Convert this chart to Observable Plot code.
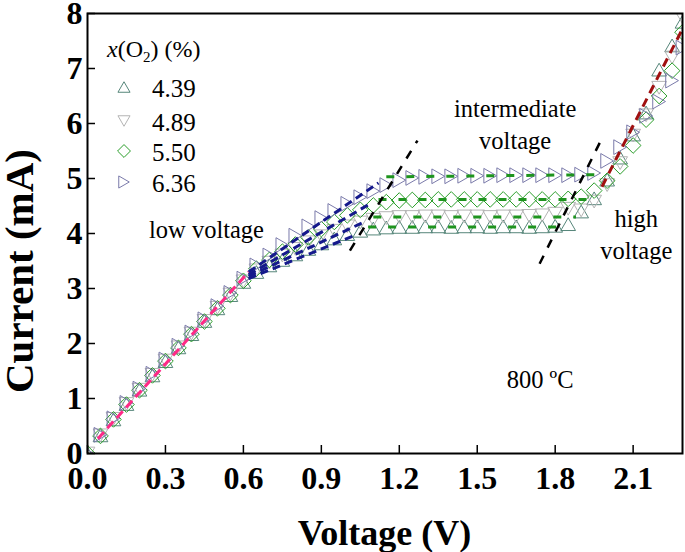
<!DOCTYPE html>
<html><head><meta charset="utf-8">
<script src="https://cdn.jsdelivr.net/npm/d3@7"></script>
<script src="https://cdn.jsdelivr.net/npm/@observablehq/plot@0.6"></script>
<style>
body{margin:0;background:#fff;}
#chart{position:relative;width:685px;height:552px;}
</style></head><body><div id="chart"></div>
<script>
// ---- data ----
const voltage = [0, 0.05, 0.1, 0.15, 0.2, 0.25, 0.3, 0.35, 0.4, 0.45, 0.5, 0.55, 0.6,
  0.65, 0.7, 0.75, 0.8, 0.85, 0.9, 0.95, 1.0, 1.05, 1.1,
  1.15, 1.2, 1.25, 1.3, 1.35, 1.4, 1.45, 1.5, 1.55, 1.6, 1.65, 1.7, 1.75, 1.8,
  1.85, 1.9, 1.95, 2.0, 2.05, 2.1, 2.15, 2.2, 2.25, 2.29];
const current439 = [0, 0.33, 0.62, 0.9, 1.16, 1.42, 1.68, 1.93, 2.17, 2.41, 2.64, 2.88, 3.12,
  3.3, 3.42, 3.52, 3.62, 3.72, 3.82, 3.91, 3.99, 4.05, 4.09,
  4.11, 4.12, 4.12, 4.13, 4.13, 4.12, 4.13, 4.13, 4.12, 4.13, 4.13, 4.12, 4.13, 4.14,
  4.17, 4.4, 4.64, 4.98, 5.38, 5.8, 6.2, 6.98, 7.42, 7.85];
const current489 = [0, 0.33, 0.63, 0.9, 1.16, 1.43, 1.69, 1.93, 2.18, 2.41, 2.65, 2.89, 3.13,
  3.33, 3.47, 3.6, 3.72, 3.84, 3.95, 4.05, 4.13, 4.2, 4.25,
  4.28, 4.3, 4.3, 4.31, 4.31, 4.3, 4.31, 4.31, 4.3, 4.31, 4.31, 4.32, 4.33, 4.36,
  4.45, 4.42, 4.58, 4.88, 5.28, 5.78, 6.15, 6.65, 7.2, 7.93];
const current550 = [0, 0.32, 0.62, 0.89, 1.15, 1.42, 1.68, 1.92, 2.17, 2.4, 2.64, 2.88, 3.14,
  3.36, 3.52, 3.67, 3.8, 3.93, 4.08, 4.21, 4.33, 4.43, 4.51,
  4.57, 4.6, 4.61, 4.61, 4.62, 4.62, 4.62, 4.62, 4.62, 4.62, 4.62, 4.62, 4.62, 4.62,
  4.63, 4.67, 4.78, 4.96, 5.22, 5.6, 6.07, 6.5, 6.96, 7.66];
const current636 = [0, 0.34, 0.64, 0.92, 1.18, 1.45, 1.71, 1.96, 2.2, 2.44, 2.68, 2.92, 3.18,
  3.42, 3.6, 3.79, 3.96, 4.13, 4.28, 4.41, 4.54, 4.66, 4.77,
  4.88, 4.97, 5.01, 5.03, 5.04, 5.04, 5.05, 5.05, 5.05, 5.06, 5.06, 5.06, 5.06, 5.06,
  5.06, 5.07, 5.1, 5.32, 5.57, 5.84, 6.14, 6.4, 6.78, 7.38];
const seriesLabels = ["4.39", "4.89", "5.50", "6.36"];
const xTicks = [0, 0.3, 0.6, 0.9, 1.2, 1.5, 1.8, 2.1];
const yTicks = [0, 1, 2, 3, 4, 5, 6, 7, 8];

// fitted dashed lines (endpoints in V, mA)
const lowFit = [{x1: 0.04, y1: 0.27, x2: 0.62, y2: 3.3}];
const midFits = [
  {x1: 0.62, y1: 3.30, x2: 1.12, y2: 4.92},
  {x1: 0.62, y1: 3.25, x2: 1.08, y2: 4.52},
  {x1: 0.62, y1: 3.22, x2: 1.06, y2: 4.20},
  {x1: 0.62, y1: 3.18, x2: 1.02, y2: 3.95}];
const plateauFits = [
  {x1: 1.15, y1: 5.03, x2: 1.97, y2: 5.07},
  {x1: 1.12, y1: 4.62, x2: 1.92, y2: 4.62},
  {x1: 1.10, y1: 4.30, x2: 1.88, y2: 4.30},
  {x1: 1.08, y1: 4.12, x2: 1.82, y2: 4.12}];
const highFit = [{x1: 1.98, y1: 4.85, x2: 2.29, y2: 7.72}];
const boundaries = [
  {x1: 1.01, y1: 3.69, x2: 1.27, y2: 5.69},
  {x1: 1.74, y1: 3.45, x2: 1.98, y2: 5.73}];
const notes = [
  {text: "low voltage", x: 0.458, y: 3.91},
  {text: "intermediate\nvoltage", x: 1.646, y: 5.545},
  {text: "high\nvoltage", x: 2.112, y: 3.545},
  {text: "800 ºC", x: 1.742, y: 1.2}];

// ---- symbols ----
function sym(points) {
  return {draw(ctx, size) {
    const r = Math.sqrt(size / Math.PI);
    ctx.moveTo(points[0][0] * r, points[0][1] * r);
    for (let k = 1; k < points.length; ++k) ctx.lineTo(points[k][0] * r, points[k][1] * r);
    ctx.closePath();
  }};
}
const triUp = sym([[0, -0.75], [0.866, 0.75], [-0.866, 0.75]]);
const triDown = sym([[0, 0.75], [0.866, -0.75], [-0.866, -0.75]]);
const triRight = sym([[0.75, 0], [-0.75, 0.866], [-0.75, -0.866]]);
const diamond = sym([[0, -0.92], [0.92, 0], [0, 0.92], [-0.92, 0]]);

const seriesValues = [current439, current489, current550, current636];
const seriesColors = ["#56867a", "#b4b4b4", "#2a9e2a", "#7a7aaa"];
const seriesSymbols = [triUp, triDown, diamond, triRight];

const dotMarks = seriesValues.map((vals, s) =>
  Plot.dot(voltage.map((v, i) => ({v, I: vals[i]})), {
    x: "v", y: "I", symbol: seriesSymbols[s], r: 8.5, fill: "none",
    stroke: seriesColors[s], strokeWidth: 1, clip: true
  }));

const dashed = (data, color, dash, w = 3) => Plot.link(data, {
  x1: "x1", y1: "y1", x2: "x2", y2: "y2", stroke: color,
  strokeWidth: w, strokeDasharray: dash, strokeLinecap: "butt"
});

const plot = Plot.plot({
  width: 685, height: 552,
  marginLeft: 87, marginRight: 3, marginTop: 13, marginBottom: 99,
  style: "font-family: 'Liberation Serif', serif; font-size: 32px; font-weight: bold; background: white; overflow: visible;",
  x: {domain: [0, 2.29], ticks: xTicks, tickFormat: d3.format(".1f"), tickSize: 0, tickPadding: 13, label: null},
  y: {domain: [0, 8], ticks: yTicks, tickFormat: d3.format("d"), tickSize: 0, tickPadding: 5, label: null},
  marks: [
    ...dotMarks,
    dashed(lowFit, "#ff2a86", "9,5"),
    dashed(midFits, "#15198c", "8,5"),
    dashed(plateauFits, "#1e941e", "8,12"),
    dashed(highFit, "#a01010", "9,6"),
    dashed(boundaries, "#000000", "9,9", 2.5),
    Plot.tickX(xTicks, {x: d => d, insetTop: 432, stroke: "black", strokeWidth: 1.5}),
    Plot.tickY(yTicks, {y: d => d, insetRight: 587, stroke: "black", strokeWidth: 1.5}),
    Plot.frame({stroke: "black", strokeWidth: 2}),
    Plot.text(notes, {x: "x", y: "y", text: "text", fontSize: 24.5, fontWeight: "normal",
      lineAnchor: "bottom", lineHeight: 1.27, fill: "black"})
  ]
});

const chart = document.getElementById("chart");
chart.appendChild(plot);

// axis titles
const svg = d3.select(plot);
const xr = plot.scale("x").range, yr = plot.scale("y").range;
svg.append("text").attr("x", (xr[0] + xr[1]) / 2).attr("y", 545)
  .attr("text-anchor", "middle")
  .style("font", "bold 36px 'Liberation Serif', serif").text("Voltage (V)");
svg.append("text").attr("transform", `translate(33,${(yr[0] + yr[1]) / 2 + 38}) rotate(-90)`)
  .attr("text-anchor", "middle")
  .style("font", "bold 41px 'Liberation Serif', serif").text("Current (mA)");

// legend
const lg = d3.select(chart).append("svg")
  .attr("width", 685).attr("height", 552)
  .style("position", "absolute").style("left", "0px").style("top", "0px")
  .style("pointer-events", "none")
  .style("font-family", "'Liberation Serif', serif");
const title = lg.append("text").attr("x", 107).attr("y", 57).attr("font-size", 24);
title.append("tspan").attr("font-style", "italic").text("x");
title.append("tspan").text("(O");
title.append("tspan").attr("font-size", 15).attr("dy", 5).text("2");
title.append("tspan").attr("dy", -5).text(") (%)");
const rowY = [87, 121, 151, 182];
seriesLabels.forEach((lab, s) => {
  const p = d3.path();
  seriesSymbols[s].draw(p, 7 * 7 * Math.PI);
  lg.append("path").attr("d", p.toString())
    .attr("transform", `translate(124,${rowY[s]})`)
    .attr("fill", "none").attr("stroke", seriesColors[s]).attr("stroke-width", 1);
  lg.append("text").attr("x", 152).attr("y", rowY[s] + 10).attr("font-size", 25).text(lab);
});
</script></body></html>
